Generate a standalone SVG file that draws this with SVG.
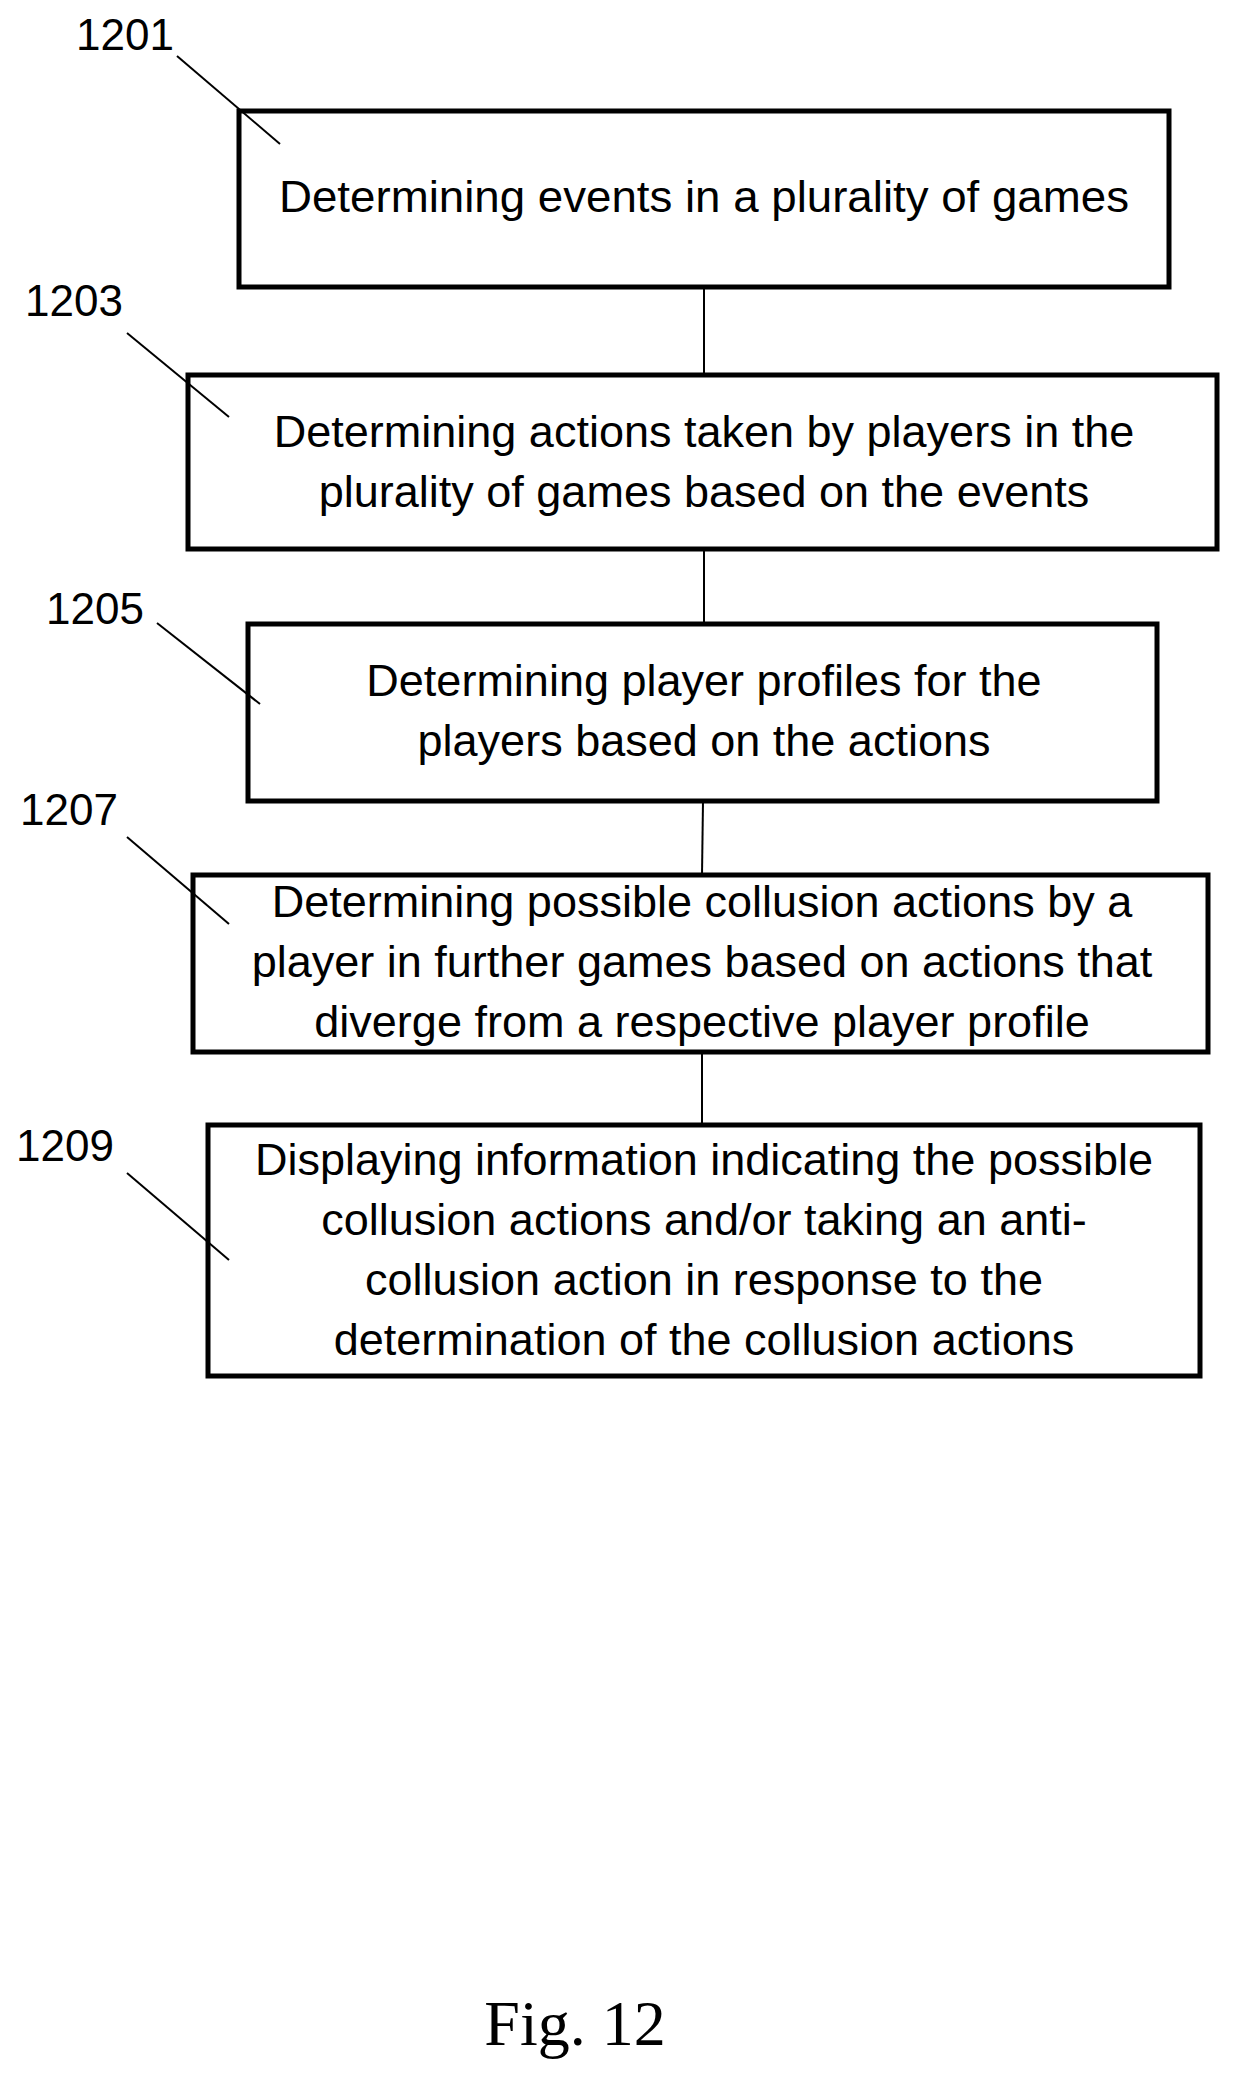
<svg xmlns="http://www.w3.org/2000/svg" width="1240" height="2088" viewBox="0 0 1240 2088">
<style>
.b{fill:#fff;stroke:#000;stroke-width:5}
.t{font-family:"Liberation Sans",Arial,sans-serif;font-size:45px;text-anchor:middle;dominant-baseline:middle}
.l{font-family:"Liberation Sans",Arial,sans-serif;font-size:44px}
.c{stroke:#000;stroke-width:2;fill:none}
</style>
<rect width="1240" height="2088" fill="#fff"/>
<g id="n1201"><rect class="b" x="239" y="111" width="930" height="176"/>
<text class="t" x="704" y="200" textLength="850" lengthAdjust="spacingAndGlyphs">Determining events in a plurality of games</text>
<text class="l" x="76" y="50">1201</text></g>
<g id="n1203"><rect class="b" x="188" y="375" width="1029" height="174"/>
<text class="t" x="704" y="435">Determining actions taken by players in the</text>
<text class="t" x="704" y="495">plurality of games based on the events</text>
<text class="l" x="25" y="316">1203</text></g>
<g id="n1205"><rect class="b" x="248" y="624" width="909" height="177"/>
<text class="t" x="704" y="684">Determining player profiles for the</text>
<text class="t" x="704" y="744">players based on the actions</text>
<text class="l" x="46" y="624">1205</text></g>
<g id="n1207"><rect class="b" x="193" y="875" width="1015" height="177"/>
<text class="t" x="702" y="905">Determining possible collusion actions by a</text>
<text class="t" x="702" y="965">player in further games based on actions that</text>
<text class="t" x="702" y="1025">diverge from a respective player profile</text>
<text class="l" x="20" y="825">1207</text></g>
<g id="n1209"><rect class="b" x="208" y="1125" width="992" height="251"/>
<text class="t" x="704" y="1163">Displaying information indicating the possible</text>
<text class="t" x="704" y="1223">collusion actions and/or taking an anti-</text>
<text class="t" x="704" y="1283">collusion action in response to the</text>
<text class="t" x="704" y="1343">determination of the collusion actions</text>
<text class="l" x="16" y="1161">1209</text></g>
<g id="connectors">
<line class="c" x1="704" y1="287" x2="704" y2="375"/>
<line class="c" x1="704" y1="549" x2="704" y2="624"/>
<line class="c" x1="703" y1="801" x2="702" y2="875"/>
<line class="c" x1="702" y1="1052" x2="702" y2="1125"/>
<line class="c" x1="177" y1="56" x2="280" y2="144"/>
<line class="c" x1="127" y1="333" x2="229" y2="417"/>
<line class="c" x1="157" y1="623" x2="260" y2="704"/>
<line class="c" x1="127" y1="837" x2="229" y2="924"/>
<line class="c" x1="127" y1="1173" x2="229" y2="1260"/>
</g>
<text x="575" y="2045" font-family="Liberation Serif,serif" font-size="64" text-anchor="middle">Fig. 12</text>
</svg>
